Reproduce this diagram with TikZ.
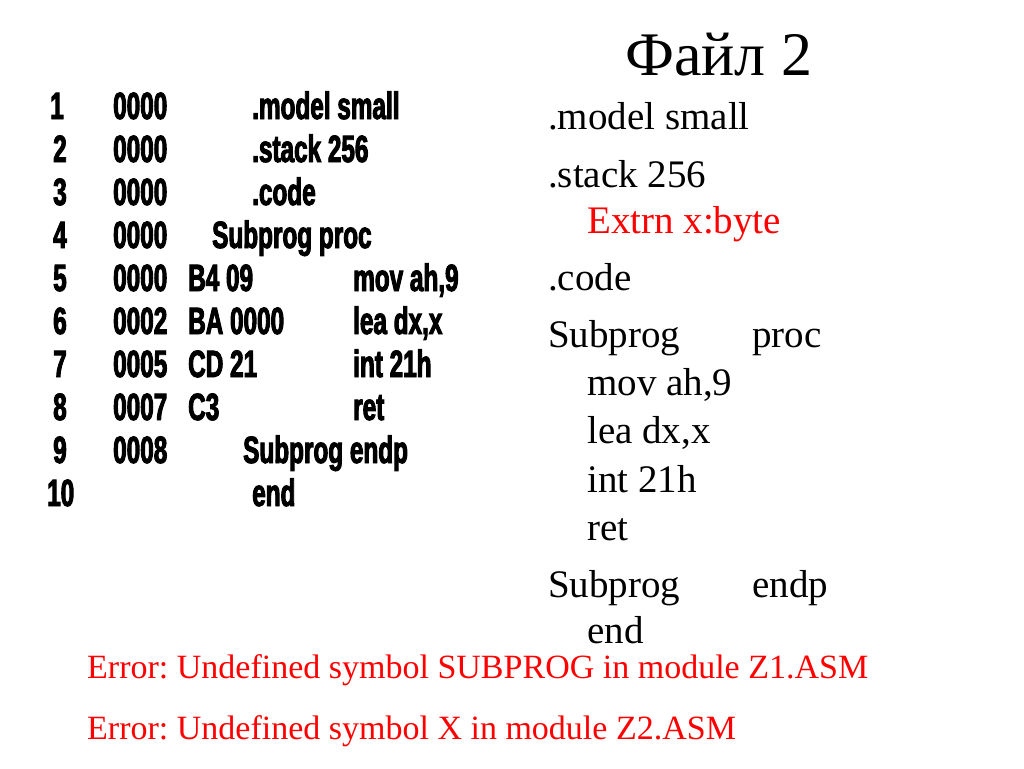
\documentclass[tikz,border=0pt]{standalone}
\usepackage{fontspec}
\setmainfont{Liberation Serif}
\newfontfamily\listfont{Liberation Sans}[FakeStretch=0.64,FakeBold=2.5]
\usetikzlibrary{positioning}
\frenchspacing
\tikzset{
	lst/.style={anchor=base west,inner sep=0pt,font=\listfont\bfseries\fontsize{38}{38}\selectfont},
	src/.style={anchor=base west,inner sep=0pt,font=\fontsize{39}{39}\selectfont},
	err/.style={anchor=base west,inner sep=0pt,text=red,font=\fontsize{34}{34}\selectfont},
	ttl/.style={anchor=base west,inner sep=0pt,font=\fontsize{62}{62}\selectfont}
}
\begin{document}
\begin{tikzpicture}[x=1pt,y=-1pt]
\useasboundingbox[fill=white] (0,0) rectangle (1024,768);
% listing on the left
\def\dy{43}
\foreach \n/\nx [count=\i] in {1/50,2/53,3/53,4/53,5/53,6/53,7/53,8/53,9/53,10/47} {
	\pgfmathsetmacro{\y}{119+(\i-1)*\dy}
	\node[lst] (num\i) at (\nx,\y) {\n};
}
\foreach \a [count=\i] in {0000,0000,0000,0000,0000,0002,0005,0007,0008} {
	\pgfmathsetmacro{\y}{119+(\i-1)*\dy}
	\node[lst] (addr\i) at (113,\y) {\a};
}
\foreach \h [count=\k] in {B4 09,BA 0000,CD 21,C3} {
	\pgfmathsetmacro{\y}{119+(\k+3)*\dy}
	\node[lst] (hex\k) at (188,\y) {\h};
}
\foreach \c/\cx [count=\i] in {.model small/252,.stack 256/252,.code/252,Subprog proc/212,
	{mov ah,9}/353,{lea dx,x}/353,int 21h/353,ret/353,Subprog endp/243,end/252} {
	\pgfmathsetmacro{\y}{119+(\i-1)*\dy}
	\node[lst] (code\i) at (\cx,\y) {\c};
}
% file 2 source
\node[ttl] (title) at (625,75) {Файл 2};
\node[src] (model) at (548,129) {.model small};
\node[src] (stack) at (548,187) {.stack 256};
\node[src,text=red] (extrn) at (587,233) {Extrn x:byte};
\node[src] (code) at (548,290) {.code};
\node[src] (proc) at (548,347) {Subprog};
\node[src] (prockw) at (752,347) {proc};
\foreach \s/\sy [count=\i] in {{mov ah,9}/395,{lea dx,x}/443,int 21h/492,ret/540} {
	\node[src] (body\i) at (587,\sy) {\s};
}
\node[src] (endp) at (548,597) {Subprog};
\node[src] (endpkw) at (752,597) {endp};
\node[src] (end) at (587,643) {end};
% errors
\node[err] (err1) at (87,678) {Error: Undefined symbol SUBPROG in module Z1.ASM};
\node[err] (err2) at (87,739) {Error: Undefined symbol X in module Z2.ASM};
\end{tikzpicture}
\end{document}
